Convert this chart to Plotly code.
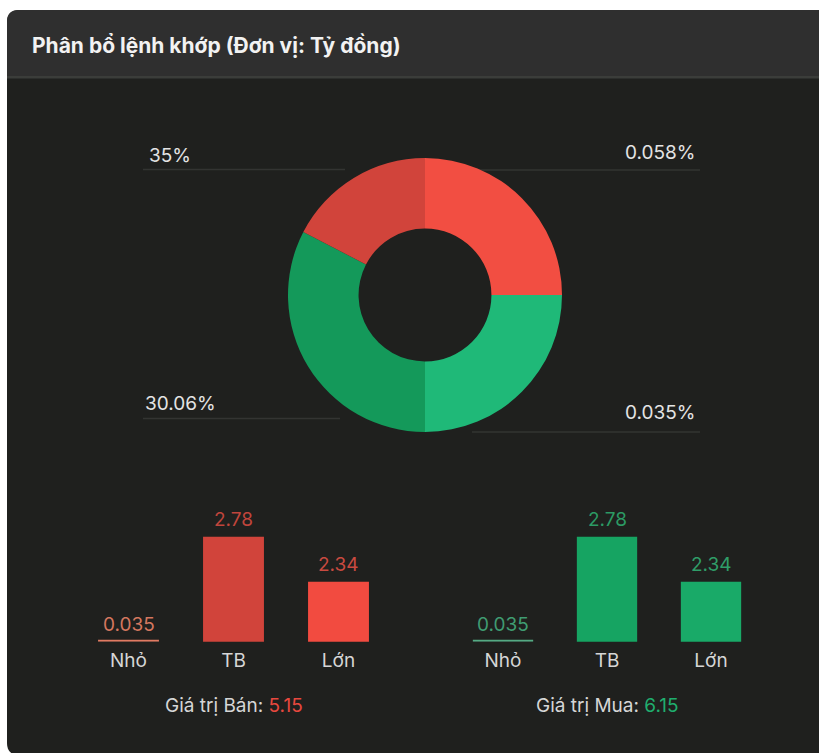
import plotly.graph_objects as go

# ---------------- data ----------------
pie_values = [25.0, 25.0, 32.6, 17.4]          # slice shares (clockwise from 12 o'clock)
pie_colors = ["#f24e42", "#1fb978", "#14995a", "#d1443b"]
pie_label_texts = ["35%", "0.058%", "30.06%", "0.035%"]  # corner labels: top-left, top-right, bottom-left, bottom-right

categories = ["Nhỏ", "TB", "Lớn"]
sell_values = [0.035, 2.78, 2.34]
buy_values = [0.035, 2.78, 2.34]
sell_total = 5.15
buy_total = 6.15

title_text = "Phân bổ lệnh khớp (Đơn vị: Tỷ đồng)"

# ---------------- layout helpers ----------------
W, H = 819, 753
def fx(px):
    return px / W
def fy(py):
    return 1 - py / H

FONT = "Inter, 'Noto Sans', sans-serif"
Y_MIN, Y_MAX = 1.754, 2.90
MIN_H = 0.02

sell_bar_colors = ["#e07a62", "#d1443b", "#f24b40"]
buy_bar_colors = ["#55aa84", "#16a462", "#19aa68"]
sell_text_colors = ["#d4775f", "#c0453c", "#c94a40"]
buy_text_colors = ["#3f9c72", "#2c9a64", "#2f9d68"]

fig = go.Figure()

# donut
fig.add_trace(go.Pie(
    values=pie_values,
    marker=dict(colors=pie_colors, line=dict(width=0)),
    hole=0.485,
    sort=False,
    direction="clockwise",
    rotation=0,
    textinfo="none",
    hoverinfo="skip",
    showlegend=False,
    domain=dict(x=[fx(288), fx(562)], y=[fy(432), fy(158)]),
))

def add_bars(values, bar_colors, text_colors, xa, ya):
    fig.add_trace(go.Bar(
        x=categories, y=values, marker=dict(color=bar_colors, line=dict(width=0)),
        width=0.58, xaxis=xa, yaxis=ya, showlegend=False, hoverinfo="skip",
    ))
    # floor marker for values below the axis minimum
    low_x = [c for c, v in zip(categories, values) if v < Y_MIN]
    low_c = [bc for bc, v in zip(bar_colors, values) if v < Y_MIN]
    fig.add_trace(go.Bar(
        x=low_x, y=[MIN_H] * len(low_x), base=[Y_MIN] * len(low_x),
        marker=dict(color=low_c, line=dict(width=0)),
        width=0.58, xaxis=xa, yaxis=ya, showlegend=False, hoverinfo="skip",
    ))
    for c, v, tc in zip(categories, values, text_colors):
        fig.add_annotation(
            x=c, y=max(v, Y_MIN), xref=xa, yref=ya, text=f"{v:g}",
            showarrow=False, yanchor="bottom", yshift=4,
            font=dict(family=FONT, size=19, color=tc),
        )

add_bars(sell_values, sell_bar_colors, sell_text_colors, "x", "y")
add_bars(buy_values, buy_bar_colors, buy_text_colors, "x2", "y2")

axis_x = dict(showgrid=False, zeroline=False, showline=False, ticks="",
              range=[-0.5, 2.5], tickfont=dict(family=FONT, size=19, color="#d6d6d6"),
              fixedrange=True, ticklabelstandoff=5)
axis_y = dict(showgrid=False, zeroline=False, showline=False, showticklabels=False,
              range=[Y_MIN, Y_MAX], fixedrange=True)

base_y = 641.7
top_y = base_y - (Y_MAX - Y_MIN) * 102.3

fig.update_layout(
    width=W, height=H,
    margin=dict(l=0, r=0, t=0, b=0),
    paper_bgcolor="#ffffff",
    plot_bgcolor="rgba(0,0,0,0)",
    barmode="overlay",
    xaxis=dict(axis_x, domain=[fx(76), fx(391)], anchor="y"),
    yaxis=dict(axis_y, domain=[fy(base_y), fy(top_y)], anchor="x"),
    xaxis2=dict(axis_x, domain=[fx(451), fx(763)], anchor="y2"),
    yaxis2=dict(axis_y, domain=[fy(base_y), fy(top_y)], anchor="x2"),
    font=dict(family=FONT),
)

# card background
r = 12
x0, y0, x1, y1 = 7, 10, 819, 755
card = (f"M {fx(x0)},{fy(y0 + r)} Q {fx(x0)},{fy(y0)} {fx(x0 + r)},{fy(y0)} "
        f"L {fx(x1)},{fy(y0)} L {fx(x1)},{fy(y1)} L {fx(x0 + r)},{fy(y1)} "
        f"Q {fx(x0)},{fy(y1)} {fx(x0)},{fy(y1 - r)} Z")
header = (f"M {fx(x0)},{fy(y0 + r)} Q {fx(x0)},{fy(y0)} {fx(x0 + r)},{fy(y0)} "
          f"L {fx(x1)},{fy(y0)} L {fx(x1)},{fy(76)} L {fx(x0)},{fy(76)} Z")
shapes = [
    dict(type="path", path=card, xref="paper", yref="paper", fillcolor="#1f201e",
         line=dict(width=0), layer="below"),
    dict(type="path", path=header, xref="paper", yref="paper", fillcolor="#2f2f2f",
         line=dict(width=0), layer="below"),
    dict(type="rect", x0=fx(x0), x1=fx(x1), y0=fy(78.5), y1=fy(76), xref="paper", yref="paper",
         fillcolor="#3b3d3a", line=dict(width=0), layer="below"),
]
lead_lines = [(143, 345, 169.5), (472, 700, 170), (143, 340, 418.5), (472, 700, 432)]
for a, b, yy in lead_lines:
    shapes.append(dict(type="line", x0=fx(a), x1=fx(b), y0=fy(yy), y1=fy(yy),
                       xref="paper", yref="paper", line=dict(color="#333432", width=1.5),
                       layer="below"))
fig.update_layout(shapes=shapes)

# title
fig.add_annotation(x=fx(30), y=fy(46), xref="paper", yref="paper", text=f"<b>{title_text}</b>",
                   showarrow=False, xanchor="left", yanchor="middle",
                   font=dict(family=FONT, size=21, color="#f2f2f2"))

# donut corner labels
label_pos = [(147, 155, "left"), (697, 152, "right"), (143, 403, "left"), (697, 413, "right")]
for t, (px, py, anc) in zip(pie_label_texts, label_pos):
    fig.add_annotation(x=fx(px), y=fy(py), xref="paper", yref="paper", text=t,
                       showarrow=False, xanchor=anc, yanchor="middle",
                       font=dict(family=FONT, size=19, color="#e4e4e4"))

# totals
fig.add_annotation(x=fx(234), y=fy(705), xref="paper", yref="paper",
                   text=f"Giá trị Bán: <span style='color:#e8483e'>{sell_total:g}</span>",
                   showarrow=False, xanchor="center", yanchor="middle",
                   font=dict(family=FONT, size=19, color="#d6d6d6"))
fig.add_annotation(x=fx(607), y=fy(705), xref="paper", yref="paper",
                   text=f"Giá trị Mua: <span style='color:#1fae6e'>{buy_total:g}</span>",
                   showarrow=False, xanchor="center", yanchor="middle",
                   font=dict(family=FONT, size=19, color="#d6d6d6"))

fig.write_html("out.html", config={"displayModeBar": False},
               post_script="document.body.style.margin='0px';document.body.style.overflow='hidden';")
